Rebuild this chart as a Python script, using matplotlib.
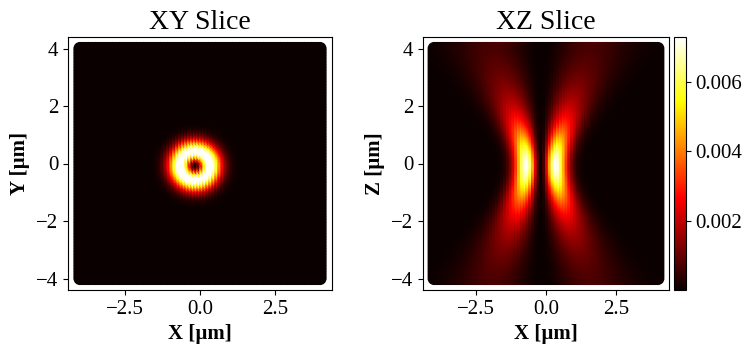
import numpy as np
import matplotlib.pyplot as plt

plt.rcParams['font.family'] = ['Liberation Serif', 'DejaVu Serif']
plt.rcParams['mathtext.fontset'] = 'stix'

# grid of the sampled points (um)
coords = np.linspace(-4, 4, 81)

# beam parameters
x_centre = 0.0        # beam axis position in x (um)
ring_xz = 0.53        # ring radius at focus in the XZ slice (um)
rayleigh = 1.3        # Rayleigh range (um)
peak_xz = 0.0073      # peak intensity in the XZ slice
ring_xy = 0.5         # ring radius in the XY slice (um)
peak_xy = 0.0078      # peak intensity in the XY slice
cbar_min = 0.0
cbar_max = 0.0073


def donut(r2, rp):
    # LG01 style doughnut, normalised to 1 at r = rp
    rho = r2 / rp**2
    return rho * np.exp(1 - rho)


X, Y = np.meshgrid(coords, coords)

# XY slice
I_xy = peak_xy * donut((X - x_centre)**2 + Y**2, ring_xy)

# XZ slice
Z = Y
spread = np.sqrt(1 + (Z / rayleigh)**2)
I_xz = peak_xz / spread**2 * donut((X - x_centre)**2, ring_xz * spread)

fig = plt.figure(figsize=(7.53, 3.54), dpi=100)
ax1 = fig.add_axes([68 / 753, 64 / 354, 264 / 753, 253 / 354])
ax2 = fig.add_axes([423 / 753, 64 / 354, 246 / 753, 253 / 354])
cax = fig.add_axes([674 / 753, 64 / 354, 12 / 753, 253 / 354])

# points go column by column (y runs fastest)
ax1.scatter(X.ravel('F'), Y.ravel('F'), c=I_xy.ravel('F'), cmap='hot', s=90,
            vmin=cbar_min, vmax=cbar_max, linewidths=0)
sc = ax2.scatter(X.ravel('F'), Z.ravel('F'), c=I_xz.ravel('F'), cmap='hot', s=90,
                 vmin=cbar_min, vmax=cbar_max, linewidths=0)

for ax, title, ylab in [(ax1, 'XY Slice', 'Y [µm]'), (ax2, 'XZ Slice', 'Z [µm]')]:
    ax.set_xlim(-4.4, 4.4)
    ax.set_ylim(-4.4, 4.4)
    ax.set_xticks([-2.5, 0.0, 2.5])
    ax.set_yticks([-4, -2, 0, 2, 4])
    ax.set_title(title, fontsize=20)
    ax.set_xlabel('X [µm]', fontsize=15, fontweight='bold')
    ax.set_ylabel(ylab, fontsize=15, fontweight='bold')
    ax.tick_params(labelsize=15)

cb = fig.colorbar(sc, cax=cax)
cb.set_ticks([0.002, 0.004, 0.006])
cb.ax.tick_params(labelsize=15)

fig.savefig('out.png', dpi=100)
